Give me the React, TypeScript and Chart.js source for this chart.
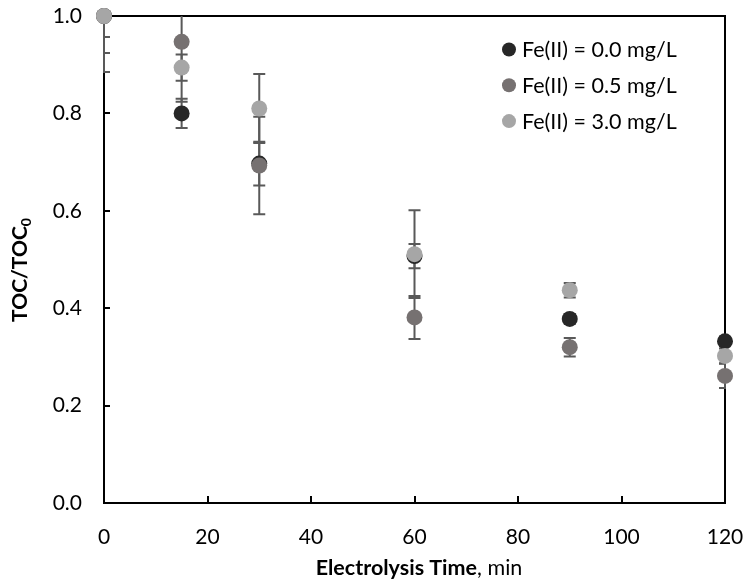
import React, { useEffect, useRef } from "react";
import { Chart, registerables } from "chart.js";

Chart.register(...registerables);

const times = [0, 15, 30, 60, 90, 120];
const fe00 = [1.0, 0.8, 0.697, 0.507, 0.378, 0.332];
const fe00Err = [0.043, 0.03, 0.045, 0.025, 0.01, 0.01];
const fe05 = [1.0, 0.947, 0.693, 0.381, 0.32, 0.261];
const fe05Err = [0.076, 0.123, 0.1, 0.044, 0.019, 0.025];
const fe30 = [1.0, 0.894, 0.81, 0.511, 0.437, 0.302];
const fe30Err = [0.115, 0.027, 0.071, 0.09, 0.015, 0.015];
const seriesLabels = ["Fe(II) = 0.0 mg/L", "Fe(II) = 0.5 mg/L", "Fe(II) = 3.0 mg/L"];
const seriesColors = ["#272727", "#767171", "#A6A6A6"];
const xTicks = [0, 20, 40, 60, 80, 100, 120];
const yTicks = [0, 0.2, 0.4, 0.6, 0.8, 1.0];

const FONT = "Lato";
const errs = [fe00Err, fe05Err, fe30Err];

const customPlugin = {
  id: "custom",
  beforeDatasetsDraw(chart: any) {
    const { ctx, chartArea: a, scales } = chart;
    const xs = scales.x, ys = scales.y;
    ctx.save();
    ctx.strokeStyle = "#000";
    ctx.lineWidth = 2;
    ctx.strokeRect(a.left, a.top, a.right - a.left, a.bottom - a.top);
    ctx.beginPath();
    xTicks.forEach((t) => {
      const px = Math.round(xs.getPixelForValue(t));
      ctx.moveTo(px, a.bottom);
      ctx.lineTo(px, a.bottom - 7);
    });
    yTicks.forEach((t) => {
      const py = Math.round(ys.getPixelForValue(t));
      ctx.moveTo(a.left, py);
      ctx.lineTo(a.left + 6, py);
    });
    ctx.stroke();
    // error bars
    ctx.beginPath();
    ctx.rect(a.left - 1, a.top, a.right - a.left + 2, a.bottom - a.top);
    ctx.clip();
    ctx.strokeStyle = "#595959";
    ctx.lineWidth = 2;
    chart.data.datasets.forEach((ds: any, i: number) => {
      ds.data.forEach((p: any, j: number) => {
        const e = errs[i][j];
        const px = xs.getPixelForValue(p.x);
        const y1 = ys.getPixelForValue(p.y + e);
        const y2 = ys.getPixelForValue(p.y - e);
        ctx.beginPath();
        ctx.moveTo(px, y1);
        ctx.lineTo(px, y2);
        ctx.moveTo(px - 6, y1);
        ctx.lineTo(px + 6, y1);
        ctx.moveTo(px - 6, y2);
        ctx.lineTo(px + 6, y2);
        ctx.stroke();
      });
    });
    ctx.restore();
  },
  afterDraw(chart: any) {
    const { ctx } = chart;
    ctx.save();
    // legend
    ctx.textBaseline = "middle";
    ctx.textAlign = "left";
    ctx.font = `21.5px ${FONT}`;
    seriesLabels.forEach((lab, i) => {
      const cy = 49.5 + i * 35.8;
      ctx.fillStyle = seriesColors[i];
      ctx.beginPath();
      ctx.arc(509, cy, 7, 0, Math.PI * 2);
      ctx.fill();
      ctx.fillStyle = "#000";
      ctx.fillText(lab, 522, cy + 1);
    });
    // x title
    ctx.textBaseline = "alphabetic";
    const boldPart = "Electrolysis Time";
    const regPart = ", min";
    ctx.font = `bold 21.5px ${FONT}`;
    const w1 = ctx.measureText(boldPart).width;
    ctx.font = `21.5px ${FONT}`;
    const w2 = ctx.measureText(regPart).width;
    const cx = 419;
    const sx = cx - (w1 + w2) / 2;
    ctx.fillStyle = "#000";
    ctx.font = `bold 21.5px ${FONT}`;
    ctx.fillText(boldPart, sx, 575);
    ctx.font = `21.5px ${FONT}`;
    ctx.fillText(regPart, sx + w1, 575);
    // y title
    ctx.translate(27, 270);
    ctx.rotate(-Math.PI / 2);
    ctx.font = `bold 21px ${FONT}`;
    const main = "TOC/TOC";
    const wm = ctx.measureText(main).width;
    ctx.font = `bold 14px ${FONT}`;
    const ws = ctx.measureText("0").width;
    const start = -(wm + ws) / 2;
    ctx.font = `bold 21px ${FONT}`;
    ctx.fillText(main, start, 0);
    ctx.font = `bold 14px ${FONT}`;
    ctx.fillText("0", start + wm, 4);
    ctx.restore();
  },
};

export default function App() {
  const ref = useRef<HTMLCanvasElement>(null);
  useEffect(() => {
    if (!ref.current) return;
    const mk = (ys: number[]) => times.map((t, i) => ({ x: t, y: ys[i] }));
    const chart = new Chart(ref.current, {
      type: "scatter",
      data: {
        datasets: [fe00, fe05, fe30].map((d, i) => ({
          label: seriesLabels[i],
          data: mk(d),
          backgroundColor: seriesColors[i],
          borderWidth: 0,
          pointRadius: 8,
          clip: false as any,
          order: 3 - i,
        })),
      },
      options: {
        animation: false,
        responsive: true,
        maintainAspectRatio: false,
        events: [],
        layout: { padding: { left: 0, right: 18, top: 16, bottom: 0 } },
        plugins: { legend: { display: false }, tooltip: { enabled: false } },
        scales: {
          x: {
            type: "linear",
            min: 0,
            max: 120,
            grid: { display: false, drawTicks: false },
            border: { display: false },
            ticks: {
              stepSize: 20,
              padding: 22,
              color: "#000",
              font: { family: FONT, size: 21 },
            },
            afterFit(s: any) {
              s.height = 83;
              s.paddingLeft = 0;
              s.paddingRight = 0;
            },
          },
          y: {
            min: 0,
            max: 1,
            grid: { display: false, drawTicks: false },
            border: { display: false },
            ticks: {
              stepSize: 0.2,
              padding: 22,
              color: "#000",
              font: { family: FONT, size: 21 },
              callback: (v: any) => Number(v).toFixed(1),
            },
            afterFit(s: any) {
              s.width = 104;
              s.paddingTop = 0;
              s.paddingBottom = 0;
            },
          },
        },
      },
      plugins: [customPlugin],
    });
    return () => chart.destroy();
  }, []);
  return (
    <div style={{ position: "absolute", left: 0, top: 0, width: 743, height: 586, background: "#fff" }}>
      <canvas ref={ref} />
    </div>
  );
}
